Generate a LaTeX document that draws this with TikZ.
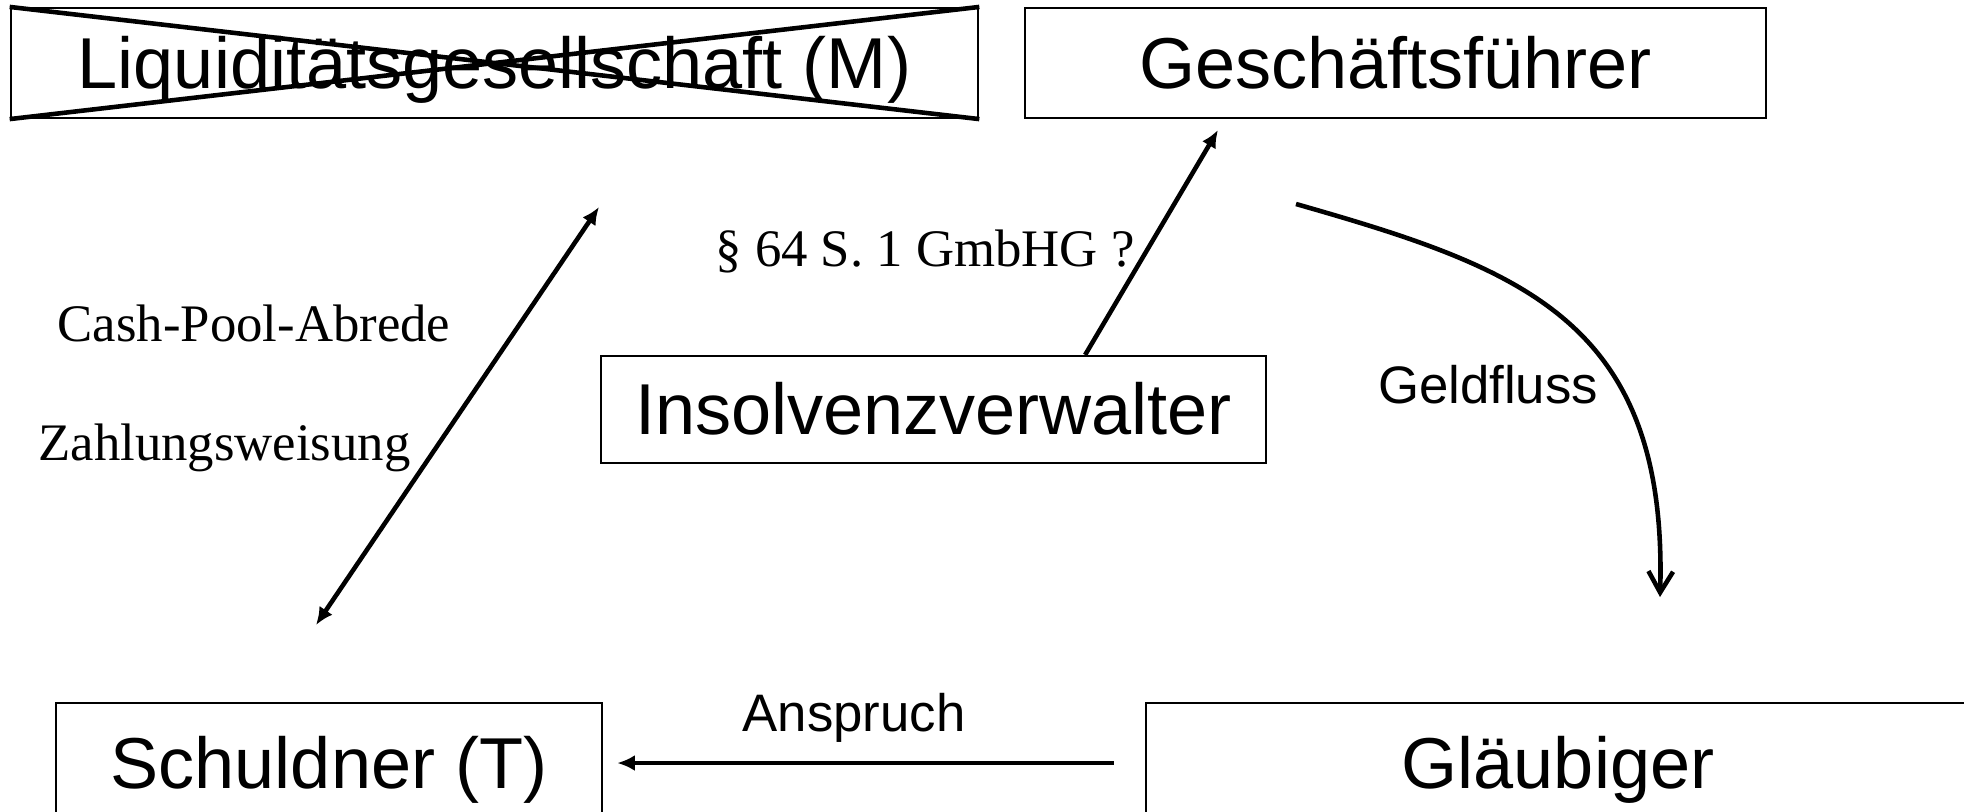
\documentclass[tikz,border=0pt]{standalone}
\usepackage{fontspec}
\usetikzlibrary{arrows.meta}
\setmainfont{Liberation Sans}
\newfontfamily\lawfont{Liberation Serif}
\tikzset{
  box/.style={draw, line width=0.6pt, inner sep=0pt, text height=0.65cm, text depth=0.15cm, font=\fontsize{20.5}{24}\selectfont},
  lbl/.style={inner sep=0pt, font=\fontsize{15}{18}\selectfont},
  law/.style={inner sep=0pt, font=\lawfont\fontsize{15}{18}\selectfont},
  arr/.style={line width=1.3pt},
}
\begin{document}
\begin{tikzpicture}[x=0.01cm, y=-0.01cm, >={Latex[length=5pt,width=4.5pt]}]
			\clip (0,0) rectangle (1964,811);
			\node[box, minimum width=9.67cm, minimum height=1.10cm] (m) at (494.5,63) {Liquiditätsgesellschaft (M)};
			\node[box, minimum width=7.41cm, minimum height=1.10cm] (gf) at (1395.5,63) {Geschäftsführer};
			\node[box, minimum width=6.65cm, minimum height=1.07cm] (iv) at (933.5,409.5) {Insolvenzverwalter};
			\node[box, minimum width=5.46cm, minimum height=1.20cm] (sd) at (329,763) {Schuldner (T)};
			\node[box, minimum width=8.24cm, minimum height=1.20cm] (gl) at (1558,763) {Gläubiger};
			\draw[arr] (m.north west) -- (m.south east) (m.south west) -- (m.north east);
			\node[law] (pool) at (254,323) {Cash-Pool-Abrede};
			\node[law] (weis) at (224.5,448) {Zahlungsweisung};
			\node[law] (gmbhg) at (925,251) {§ 64 S. 1 GmbHG ?};
			\node[lbl] (geld) at (1488,385) {Geldfluss};
			\node[lbl] (anspr) at (854,718) {Anspruch};
			\coordinate (sdT) at (316,625);
			\coordinate (mB) at (599,207);
			\coordinate (gfB) at (1218,130);
			\coordinate (geldA) at (1296,204);
			\coordinate (geldB) at (1660,597);
			\draw[arr,<->] (sdT) -- (mB);
			\draw[arr,->] ([xshift=1.515cm]iv.north) -- (gfB);
			\draw[arr,-{Straight Barb[length=6pt,width=7pt]}] (geldA) .. controls (1520,268) and (1668,320) .. (geldB);
			\draw[arr,->,shorten <=0.31cm,shorten >=0.14cm] (gl.west) -- (sd.east);
		\end{tikzpicture}
\end{document}
